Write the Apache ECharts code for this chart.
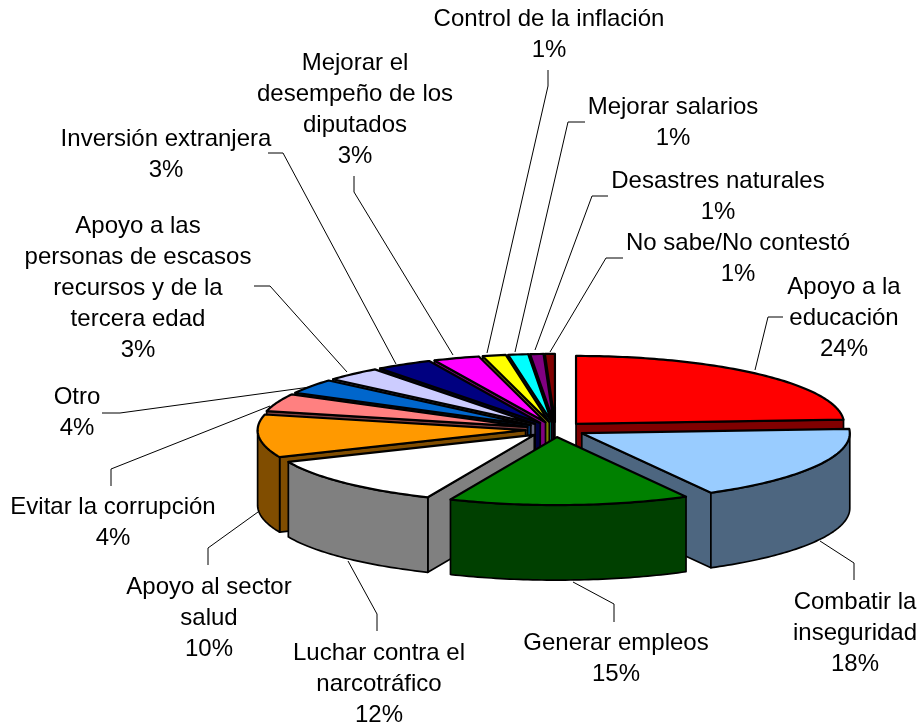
<!DOCTYPE html>
<html>
<head>
<meta charset="utf-8">
<title>Pie</title>
<style>
  html, body { margin: 0; padding: 0; background: #fff; }
  #chart { width: 921px; height: 725px; }
</style>
<script src="https://cdn.jsdelivr.net/npm/echarts@6/dist/echarts.min.js"></script>
</head>
<body>
<div id="chart"></div>
<script>
const names = [
  "Apoyo a la\neducación",
  "Combatir la\ninseguridad",
  "Generar empleos",
  "Luchar contra el\nnarcotráfico",
  "Apoyo al sector\nsalud",
  "Evitar la corrupción",
  "Otro",
  "Apoyo a las\npersonas de escasos\nrecursos y de la\ntercera edad",
  "Inversión extranjera",
  "Mejorar el\ndesempeño de los\ndiputados",
  "Control de la inflación",
  "Mejorar salarios",
  "Desastres naturales",
  "No sabe/No contestó"
];
// labels show them rounded
const values = [24, 18, 14.5, 12, 10.2, 4.2, 3.5, 3.4, 3.4, 2.8, 1.4, 1.2, 0.8, 0.6];

const topColors = ["#FF0000", "#99CCFF", "#008000", "#FFFFFF", "#FF9900", "#FF8080", "#0066CC",
  "#CCCCFF", "#000080", "#FF00FF", "#FFFF00", "#00FFFF", "#800080", "#800000"];
const wallColors = ["#800000", "#4D6680", "#004000", "#808080", "#804D00", "#804040", "#003366",
  "#666680", "#000040", "#800080", "#808000", "#008080", "#400040", "#400000"];

// label block centre
const labelX = [844, 855, 616, 379, 209, 113, 77, 138, 166, 355, 549, 673, 718, 738];
const labelY = [318, 633, 659, 684, 618, 523, 413, 288, 155, 110, 35, 123, 197, 259];
// leader lines
const leaders = [
  [[783, 317], [768, 317], [755, 370]],
  [[854, 580], [854, 563], [820, 541]],
  [[614, 622], [614, 604], [573, 582]],
  [[377, 631], [377, 614], [348, 561]],
  [[208, 565], [208, 548], [258, 512]],
  [[111, 486], [111, 469], [270, 406]],
  [[102, 413], [120, 413], [310, 387]],
  [[254, 286], [270, 286], [347, 372]],
  [[268, 153], [283, 153], [396, 364]],
  [[354, 176], [354, 192], [453, 355]],
  [[548, 70], [548, 86], [487, 353]],
  [[585, 122], [568, 122], [515, 352]],
  [[608, 196], [592, 196], [535, 350]],
  [[623, 258], [606, 258], [550, 352]]
];

const CX = 555.5, CY = 429.5, RX = 268, RY = 68, DEPTH = 75, EXPLODE = 30;
const RAD = Math.PI / 180;

const total = values.reduce((a, b) => a + b, 0);
let acc = 0;
const slices = values.map((v, i) => {
  const a0 = acc / total * 360;
  acc += v;
  const a1 = acc / total * 360;
  const mid = (a0 + a1) / 2;
  return {
    i, a0, a1, mid,
    ax: CX + EXPLODE * Math.sin(mid * RAD),
    ay: CY - EXPLODE * (RY / RX) * Math.cos(mid * RAD)
  };
});

// back to front
const order = slices.slice().sort((p, q) => Math.cos(q.mid * RAD) - Math.cos(p.mid * RAD));

function rim(s, t, drop) {
  return [s.ax + RX * Math.sin(t * RAD), s.ay - RY * Math.cos(t * RAD) + (drop || 0)];
}

function arcPoints(s, from, to, drop) {
  const pts = [];
  for (let t = from; t < to; t += 1) pts.push(rim(s, t, drop));
  pts.push(rim(s, to, drop));
  return pts;
}

function poly(points, fill, width) {
  return {
    type: "polygon",
    shape: { points },
    style: { fill, stroke: "#000", lineWidth: width, lineJoin: "round" }
  };
}

function radialFace(s, t, fill) {
  const p = rim(s, t);
  return poly([[s.ax, s.ay], p, [p[0], p[1] + DEPTH], [s.ax, s.ay + DEPTH]], fill, 1.7);
}

function renderSlice(params, api) {
  const s = slices[api.value(0)];
  const children = [];
  // cut faces, only when they turn to the viewer
  if (Math.cos((s.a0 - 90) * RAD) < 0) children.push(radialFace(s, s.a0, wallColors[s.i]));
  if (Math.cos((s.a1 + 90) * RAD) < 0) children.push(radialFace(s, s.a1, wallColors[s.i]));
  // outer wall on the front half
  const from = Math.max(s.a0, 90), to = Math.min(s.a1, 270);
  if (to > from) {
    const topArc = arcPoints(s, from, to, 0);
    const bottomArc = arcPoints(s, from, to, DEPTH).reverse();
    children.push(poly(topArc.concat(bottomArc), wallColors[s.i], 1.7));
  }
  children.push(poly([[s.ax, s.ay]].concat(arcPoints(s, s.a0, s.a1, 0)), topColors[s.i], 2.2));
  return { type: "group", children };
}

function renderLabel(params, api) {
  const i = api.value(0);
  return {
    type: "group",
    children: [
      {
        type: "polyline",
        shape: { points: leaders[i] },
        style: { fill: null, stroke: "#000", lineWidth: 1 }
      },
      {
        type: "text",
        x: labelX[i],
        y: labelY[i],
        style: {
          text: names[i] + "\n" + Math.round(values[i]) + "%",
          fill: "#000",
          font: '24px "Liberation Sans", Arial, sans-serif',
          lineHeight: 31,
          align: "center",
          verticalAlign: "middle"
        }
      }
    ]
  };
}

const chart = echarts.init(document.getElementById("chart"), null, { renderer: "canvas" });
chart.setOption({
  backgroundColor: "#fff",
  animation: false,
  series: [
    {
      type: "custom",
      coordinateSystem: "none",
      silent: true,
      z: 1,
      renderItem: renderLabel,
      data: values.map((v, i) => [i, v])
    },
    {
      type: "custom",
      coordinateSystem: "none",
      silent: true,
      z: 2,
      renderItem: renderSlice,
      data: order.map(s => [s.i, values[s.i]])
    }
  ]
});
</script>
</body>
</html>
